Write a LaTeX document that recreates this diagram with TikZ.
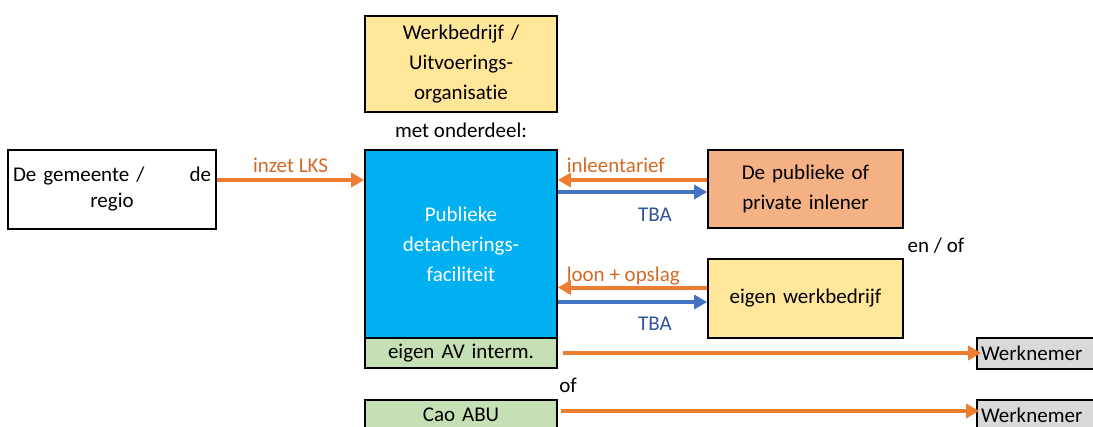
\documentclass[tikz,border=0pt]{standalone}
\usepackage{fontspec}
\setmainfont{Carlito}[Ligatures=NoCommon]
\usepackage{xcolor}
\usepackage{tikz}
\usetikzlibrary{arrows.meta}

\definecolor{arrOrange}{HTML}{ED7D31}
\definecolor{arrBlue}{HTML}{4472C4}
\definecolor{txtOrange}{HTML}{D46A25}
\definecolor{txtBlue}{HTML}{2F5597}
\definecolor{fillYellow}{HTML}{FFE699}
\definecolor{fillBlue}{HTML}{00B0F0}
\definecolor{fillSalmon}{HTML}{F4B183}
\definecolor{fillGreen}{HTML}{C5E0B4}
\definecolor{fillGrey}{HTML}{D9D9D9}

\begin{document}
\begin{tikzpicture}[y=-1pt,x=1pt,
	box/.style={draw=black, line width=1.6pt, inner sep=0pt, align=center, font=\fontsize{21}{30}\selectfont},
	lbl/.style={inner sep=0pt, font=\fontsize{21}{30}\selectfont},
	oarrow/.style={draw=arrOrange, line width=4pt, -{Triangle[length=13pt,width=14pt]}},
	barrow/.style={draw=arrBlue, line width=4pt, -{Triangle[length=13pt,width=14pt]}}]
	\useasboundingbox (0,0) rectangle (1093,426);

	\node[box, fill=fillYellow, text width=192pt, minimum height=96pt] (wb) at (461,64) {Werkbedrijf /\\Uitvoerings-\\organisatie};
	\node[lbl, anchor=base] (met) at (461,137) {met onderdeel:};
	\node[box, fill=fillBlue, text=white, text width=192pt, minimum height=188pt] (pdf) at (461,244) {Publieke\\detacherings-\\faciliteit};
	\node[box, fill=fillGreen, text width=192pt, minimum height=30pt] (av) at (461,353) {eigen AV interm.};
	\node[lbl, anchor=base] (of) at (568,392) {of};
	\node[box, fill=fillGreen, text width=192pt, minimum height=30pt] (cao) at (461,415) {Cao ABU};

	\node[box, fill=white, text width=198pt, minimum width=208pt, minimum height=79pt] (gem) at (112,189.5) {\makebox[198pt]{De gemeente /\hfill de}\\[-4pt]regio};

	\node[box, fill=fillSalmon, text width=195pt, minimum height=78pt] (inl) at (805.5,189) {De publieke of\\private inlener};
	\node[lbl, anchor=base] (enof) at (936,252) {en / of};
	\node[box, fill=fillYellow, text width=195pt, minimum height=79pt] (ewb) at (805.5,298.5) {eigen werkbedrijf};

	\node[box, fill=fillGrey, text width=112pt, inner xsep=4pt, align=left, minimum height=31pt] (wn1) at (1037,353.5) {Werknemer};
	\node[box, fill=fillGrey, text width=112pt, inner xsep=4pt, align=left, minimum height=31pt] (wn2) at (1037,415.5) {Werknemer};

	\draw[oarrow] ([yshift=9.5pt]gem.east) -- node[lbl, anchor=base, yshift=8pt, text=txtOrange] {inzet LKS} ([yshift=9.5pt]gem.east -| pdf.west);

	\draw[oarrow] ([yshift=9pt]inl.west) -- ([yshift=9pt]inl.west -| pdf.east) node[lbl, anchor=base west, xshift=7pt, yshift=8pt, text=txtOrange] {inleentarief};
	\draw[barrow] ([yshift=-3pt]pdf.east |- inl.west) -- node[lbl, pos=0.65, anchor=base, yshift=-29pt, text=txtBlue] {TBA} ([yshift=-3pt]inl.west);

	\draw[oarrow] ([yshift=11pt]ewb.west) -- ([yshift=11pt]ewb.west -| pdf.east) node[lbl, anchor=base west, xshift=7pt, yshift=6pt, text=txtOrange] {loon + opslag};
	\draw[barrow] ([yshift=-3.5pt]pdf.east |- ewb.west) -- node[lbl, pos=0.65, anchor=base, yshift=-28pt, text=txtBlue] {TBA} ([yshift=-3.5pt]ewb.west);

	\draw[oarrow] ([xshift=5pt]av.east) -- ([xshift=5pt]av.east -| wn1.west);
	\draw[oarrow] ([xshift=3pt,yshift=4pt]cao.east) -- ([xshift=3pt,yshift=4pt]cao.east -| wn2.west);
\end{tikzpicture}
\end{document}
